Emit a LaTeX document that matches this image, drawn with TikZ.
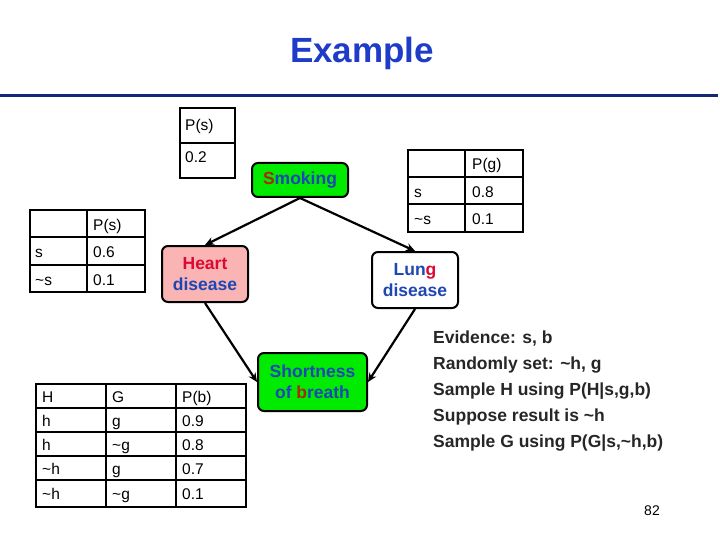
\documentclass[tikz,border=0pt]{standalone}
\usepackage{fontspec}
\setmainfont{Liberation Sans}
\usetikzlibrary{arrows.meta}
\definecolor{tblue}{RGB}{30,60,200}
\definecolor{nblue}{RGB}{30,70,180}
\definecolor{nred}{RGB}{220,10,50}
\definecolor{nbrown}{RGB}{170,40,10}
\definecolor{ngreen}{RGB}{0,235,0}
\definecolor{npink}{RGB}{250,180,180}
\definecolor{lblue}{RGB}{20,40,120}
\tikzset{
  bn/.style={draw,line width=2pt,rounded corners=6pt,align=center,font=\bfseries\fontsize{17.5}{21}\selectfont,text=nblue,inner sep=1pt},
  tb/.style={line width=2pt},
  tt/.style={anchor=base west,font=\fontsize{15.5}{18}\selectfont,inner sep=0pt},
  ed/.style={line width=2.2pt,-{Stealth[length=9pt,width=8pt]}}
}
\begin{document}
\begin{tikzpicture}[x=1pt,y=-1pt]
\useasboundingbox (0,0) rectangle (720,540);
\node[font=\bfseries\fontsize{35}{40}\selectfont,text=tblue] (title) at (362,53) {Example};
\draw[lblue,line width=3pt] (0,96) -- (718,96);
% top table
\draw[tb] (180,108) rectangle (235,178); \draw[tb] (180,143) -- (235,143);
\node[tt] (ta) at (185,131) {P(s)}; \node[tt] (tb1) at (185,163) {0.2};
% left table
\draw[tb] (30,210) rectangle (145,292); \draw[tb] (30,237)--(145,237); \draw[tb] (30,265)--(145,265); \draw[tb] (87,210)--(87,292);
\node[tt] (la) at (93,230) {P(s)};
\node[tt] (lb) at (35,258) {s}; \node[tt] (lc) at (93,258) {0.6};
\node[tt] (ld) at (35,285) {\textasciitilde s}; \node[tt] (le) at (93,285) {0.1};
% right table
\draw[tb] (408,150) rectangle (523,232); \draw[tb] (408,177)--(523,177); \draw[tb] (408,204)--(523,204); \draw[tb] (465,150)--(465,232);
\node[tt] (ra) at (472,170) {P(g)};
\node[tt] (rb) at (414,198) {s}; \node[tt] (rc) at (472,198) {0.8};
\node[tt] (rd) at (414,225) {\textasciitilde s}; \node[tt] (re) at (472,225) {0.1};
% bottom table
\draw[tb] (36,384) rectangle (246,507);
\foreach \y in {408,432,456,480} \draw[tb] (36,\y)--(246,\y);
\draw[tb] (106,384)--(106,507); \draw[tb] (176,384)--(176,507);
\begin{scope}[every node/.style={tt}]
\node (b1) at (42,402) {H}; \node (b2) at (112,402) {G}; \node (b3) at (182,402) {P(b)};
\node (b4) at (42,426) {h}; \node (b5) at (112,426) {g}; \node (b6) at (182,426) {0.9};
\node (b7) at (42,450) {h}; \node (b8) at (112,450) {\textasciitilde g}; \node (b9) at (182,450) {0.8};
\node (b10) at (42,474) {\textasciitilde h}; \node (b11) at (112,474) {g}; \node (b12) at (182,474) {0.7};
\node (b13) at (42,499) {\textasciitilde h}; \node (b14) at (112,499) {\textasciitilde g}; \node (b15) at (182,499) {0.1};
\end{scope}
% nodes
\node[bn,fill=ngreen,minimum width=96pt,minimum height=34pt] (S) at (300,180) {\textcolor{nbrown}{S}moking};
\node[bn,fill=npink,minimum width=86pt,minimum height=56pt] (H) at (205,274) {\textcolor{nred}{Heart}\\disease};
\node[bn,fill=white,minimum width=86pt,minimum height=56pt] (L) at (415,280) {Lun\textcolor{nred}{g}\\disease};
\node[bn,fill=ngreen,minimum width=109pt,minimum height=58pt] (B) at (312.5,382) {Shortness\\of \textcolor{nbrown}{b}reath};
\draw[ed] (S.south) -- (H.north);
\draw[ed] (S.south) -- (L.north);
\draw[ed] (H.south) -- (B.west);
\draw[ed] (L.south) -- (B.east);
% evidence text
\node[anchor=north west,align=left,font=\bfseries\fontsize{17.5}{26}\selectfont,text=black!85,inner sep=0pt] (ev) at (433,331)
{Evidence: s, b\\Randomly set: \textasciitilde h, g\\Sample H using P(H|s,g,b)\\Suppose result is \textasciitilde h\\Sample G using P(G|s,\textasciitilde h,b)};
\node[font=\fontsize{14}{16}\selectfont] (pg) at (652,511) {82};
\end{tikzpicture}
\end{document}
